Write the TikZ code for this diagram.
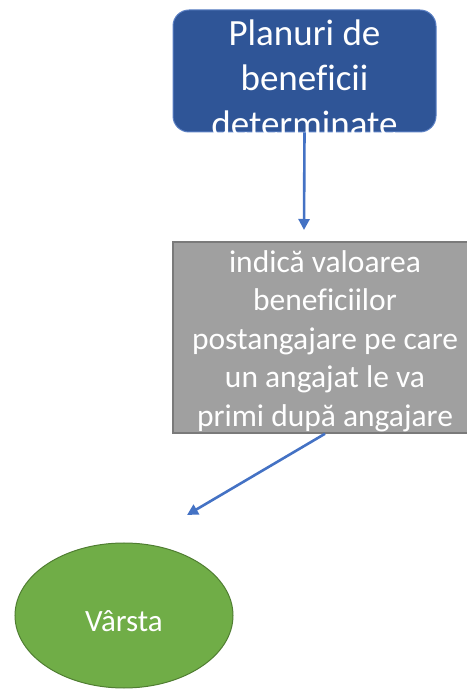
\documentclass[tikz,border=0pt]{standalone}
\usepackage{fontspec}
\setmainfont[Ligatures={NoCommon}]{Carlito}
\usetikzlibrary{arrows.meta,shapes.geometric,calc}
\definecolor{topblue}{HTML}{2F5597}
\definecolor{topedge}{HTML}{5B80C4}
\definecolor{arrowblue}{HTML}{4472C4}
\definecolor{boxgray}{HTML}{A0A0A0}
\definecolor{grayedge}{HTML}{7A7A7A}
\definecolor{leafgreen}{HTML}{70AD47}
\definecolor{greenedge}{HTML}{507E32}
\begin{document}
\begin{tikzpicture}[x=1pt,y=1pt,
  conn/.style={draw=arrowblue,line width=2.6pt,-{Triangle[width=11pt,length=11pt]}},
  txt/.style={text=white,align=center,inner sep=0pt}]
\useasboundingbox (0,0) rectangle (466,690);
\node[draw=topedge,fill=topblue,rounded corners=16pt,minimum width=263pt,minimum height=122pt,line width=1pt] (top) at (304.5,619) {};
\node[txt,font=\fontsize{37}{45.5}\selectfont] (toptxt) at (304.5,612) {Planuri de\\beneficii\\determinate};
\node[draw=grayedge,fill=boxgray,minimum width=304pt,minimum height=191pt,line width=1.5pt] (g) at (325,352.5) {};
\node[txt,font=\fontsize{31.5}{38.5}\selectfont] (gtxt) at (325,349) {indică valoarea\\beneficiilor\\postangajare pe care\\un angajat le va\\primi după angajare};
\node[ellipse,draw=greenedge,fill=leafgreen,minimum width=218pt,minimum height=145pt,line width=1pt,inner sep=0pt] (v) at (124,74.5) {};
\node[txt,font=\fontsize{31}{37}\selectfont] (vtxt) at (124,69) {Vârsta};
\coordinate (e1) at (304,460);
\coordinate (e2) at (187,175);
\draw[conn] (top.south) -- (e1);
\draw[conn] (g.south) -- (e2);
\end{tikzpicture}
\end{document}
